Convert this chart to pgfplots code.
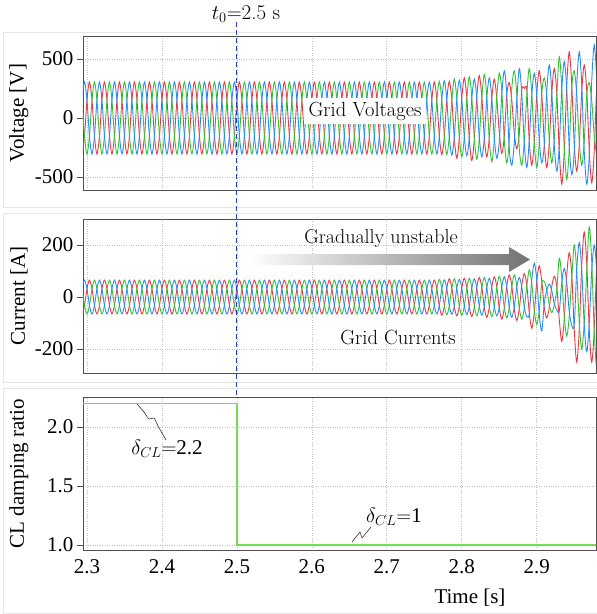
\documentclass[border=0pt]{standalone}
\usepackage{pgfplots}
\pgfplotsset{compat=1.18}
\usepackage{pgfplotstable}
\usepackage{fontspec}
\setmainfont{Liberation Serif}
\newfontfamily\lmr{Latin Modern Roman}
\definecolor{cR}{RGB}{240,55,65}
\definecolor{cG}{RGB}{50,195,50}
\definecolor{cB}{RGB}{35,140,255}
\definecolor{cD}{RGB}{110,225,80}
\definecolor{cL}{RGB}{40,60,205}
\definecolor{frame}{RGB}{80,80,80}

\pgfplotstableread{
t vg vb vr ig ib ir
2.2900 305 -152 -152 65 -32 -32
2.2933 152 152 -305 32 32 -65
2.2967 -152 305 -152 -32 65 -32
2.3000 -305 152 152 -65 32 32
2.3033 -152 -152 305 -32 -32 65
2.3067 152 -305 152 32 -65 32
2.3100 305 -152 -152 65 -32 -32
2.3133 152 152 -305 32 32 -65
2.3167 -152 305 -152 -32 65 -32
2.3200 -305 152 152 -65 32 32
2.3233 -152 -152 305 -32 -32 65
2.3267 152 -305 152 32 -65 32
2.3300 305 -152 -152 65 -32 -32
2.3333 152 152 -305 32 32 -65
2.3367 -152 305 -152 -32 65 -32
2.3400 -305 152 152 -65 32 32
2.3433 -152 -152 305 -32 -32 65
2.3467 152 -305 152 32 -65 32
2.3500 305 -152 -152 65 -32 -32
2.3533 152 152 -305 32 32 -65
2.3567 -152 305 -152 -32 65 -32
2.3600 -305 152 152 -65 32 32
2.3633 -152 -152 305 -32 -32 65
2.3667 152 -305 152 32 -65 32
2.3700 305 -152 -152 65 -32 -32
2.3733 152 152 -305 32 32 -65
2.3767 -152 305 -152 -32 65 -32
2.3800 -305 152 152 -65 32 32
2.3833 -152 -152 305 -32 -32 65
2.3867 152 -305 152 32 -65 32
2.3900 305 -152 -152 65 -32 -32
2.3933 152 152 -305 32 32 -65
2.3967 -152 305 -152 -32 65 -32
2.4000 -305 152 152 -65 32 32
2.4033 -152 -152 305 -32 -32 65
2.4067 152 -305 152 32 -65 32
2.4100 305 -152 -152 65 -32 -32
2.4133 152 152 -305 32 32 -65
2.4167 -152 305 -152 -32 65 -32
2.4200 -305 152 152 -65 32 32
2.4233 -152 -152 305 -32 -32 65
2.4267 152 -305 152 32 -65 32
2.4300 305 -152 -152 65 -32 -32
2.4333 152 152 -305 32 32 -65
2.4367 -152 305 -152 -32 65 -32
2.4400 -305 152 152 -65 32 32
2.4433 -152 -152 305 -32 -32 65
2.4467 152 -305 152 32 -65 32
2.4500 305 -152 -152 65 -32 -32
2.4533 152 152 -305 32 32 -65
2.4567 -152 305 -152 -32 65 -32
2.4600 -305 152 152 -65 32 32
2.4633 -152 -152 305 -32 -32 65
2.4667 152 -305 152 32 -65 32
2.4700 305 -152 -152 65 -32 -32
2.4733 152 152 -305 32 32 -65
2.4767 -152 305 -152 -32 65 -32
2.4800 -305 152 152 -65 32 32
2.4833 -152 -152 305 -32 -32 65
2.4867 152 -305 152 32 -65 32
2.4900 305 -152 -152 65 -32 -32
2.4933 152 152 -305 32 32 -65
2.4967 -152 305 -152 -32 65 -32
2.5000 -305 152 152 -65 32 32
2.5033 -152 -152 305 -32 -32 65
2.5067 152 -305 152 32 -65 32
2.5100 305 -152 -152 65 -32 -32
2.5133 152 152 -305 32 32 -65
2.5167 -152 305 -152 -32 65 -32
2.5200 -305 152 152 -65 32 32
2.5233 -152 -152 305 -32 -32 65
2.5267 152 -305 152 32 -65 32
2.5300 305 -152 -152 65 -32 -32
2.5333 152 152 -305 32 32 -65
2.5367 -152 305 -152 -32 65 -32
2.5400 -305 152 152 -65 32 32
2.5433 -152 -152 305 -32 -32 65
2.5467 152 -305 152 32 -65 32
2.5500 305 -152 -152 65 -32 -32
2.5533 152 152 -305 32 32 -65
2.5567 -152 305 -152 -32 65 -32
2.5600 -305 152 152 -65 32 32
2.5633 -152 -152 305 -32 -32 65
2.5667 152 -305 152 32 -65 32
2.5700 305 -152 -152 65 -32 -32
2.5733 152 152 -305 32 32 -65
2.5767 -152 305 -152 -32 65 -32
2.5800 -305 152 152 -65 32 32
2.5833 -152 -152 305 -32 -32 65
2.5867 152 -305 152 32 -65 32
2.5900 305 -152 -152 65 -32 -32
2.5933 152 152 -305 32 32 -65
2.5967 -152 305 -152 -32 65 -32
2.6000 -305 152 152 -65 32 32
2.6033 -152 -152 305 -32 -32 65
2.6067 152 -305 152 32 -65 32
2.6100 305 -152 -152 65 -32 -32
2.6133 152 152 -305 32 32 -65
2.6167 -152 305 -152 -32 65 -32
2.6200 -305 152 152 -65 32 32
2.6233 -152 -152 305 -32 -32 65
2.6267 152 -305 152 32 -65 32
2.6300 305 -152 -152 65 -32 -32
2.6333 152 152 -305 32 32 -65
2.6367 -152 305 -152 -32 65 -32
2.6400 -305 152 152 -65 32 32
2.6433 -152 -152 305 -32 -32 65
2.6467 152 -305 152 32 -65 32
2.6500 305 -152 -152 65 -32 -32
2.6533 152 152 -305 32 32 -65
2.6567 -152 305 -152 -32 65 -32
2.6600 -305 152 152 -65 32 32
2.6633 -152 -152 305 -32 -32 65
2.6667 152 -305 152 32 -65 32
2.6700 305 -152 -152 65 -32 -32
2.6733 152 152 -305 32 32 -65
2.6767 -152 305 -152 -32 65 -32
2.6800 -305 152 152 -65 32 32
2.6833 -152 -152 305 -32 -32 65
2.6867 152 -305 152 32 -65 32
2.6900 305 -152 -152 65 -32 -32
2.6933 152 152 -305 32 32 -65
2.6967 -152 305 -152 -32 65 -32
2.7000 -305 152 152 -65 32 32
2.7033 -152 -152 305 -32 -32 65
2.7067 152 -305 152 32 -65 32
2.7100 305 -152 -152 65 -32 -32
2.7133 152 152 -305 32 32 -65
2.7167 -152 305 -152 -32 65 -32
2.7200 -305 152 152 -65 32 32
2.7233 -152 -152 305 -32 -32 65
2.7267 152 -305 152 32 -65 32
2.7300 305 -152 -152 65 -32 -32
2.7333 152 152 -305 32 32 -65
2.7367 -152 305 -152 -32 65 -32
2.7400 -305 152 152 -65 32 32
2.7433 -152 -152 305 -32 -32 65
2.7467 152 -305 152 32 -65 32
2.7500 305 -152 -152 65 -32 -32
2.7533 152 152 -305 32 32 -65
2.7567 -152 305 -152 -32 65 -32
2.7600 -305 152 152 -65 32 32
2.7633 -152 -152 305 -32 -32 65
2.7667 152 -305 152 32 -65 32
2.7700 310 -158 -155 68 -33 -35
2.7733 155 158 -310 34 33 -70
2.7767 -155 315 -155 -34 66 -35
2.7800 -310 158 155 -68 33 35
2.7833 -155 -158 310 -34 -33 70
2.7867 155 -315 155 34 -66 35
2.7900 330 -160 -170 70 -34 -36
2.7933 165 160 -340 35 34 -72
2.7967 -165 320 -170 -35 68 -36
2.8000 -330 160 170 -70 34 36
2.8033 -165 -160 340 -35 -34 72
2.8067 165 -320 170 35 -68 36
2.8100 350 -165 -180 72 -35 -38
2.8133 175 165 -360 36 35 -75
2.8167 -175 330 -180 -36 70 -38
2.8200 -350 165 180 -72 35 38
2.8233 -175 -165 360 -36 -35 75
2.8267 175 -330 180 36 -70 38
2.8300 370 -170 -165 75 -36 -39
2.8333 185 170 -330 38 36 -78
2.8367 -185 340 -165 -38 72 -39
2.8400 -370 170 165 -75 36 39
2.8433 -185 -170 330 -38 -36 78
2.8467 185 -340 165 38 -72 39
2.8500 380 -200 -120 80 -39 -43
2.8533 230 200 -300 40 39 -85
2.8567 -190 400 -150 -40 78 -43
2.8600 -380 200 200 -80 39 43
2.8633 -190 -260 300 -40 -39 85
2.8667 250 -400 150 40 -78 43
2.8700 400 -210 -130 85 -38 -45
2.8733 200 150 -260 43 38 -90
2.8767 -260 420 -130 -43 75 -45
2.8800 -400 210 240 -85 38 45
2.8833 -200 -210 250 -43 -38 90
2.8867 200 -420 240 43 -75 45
2.8900 420 -190 -200 105 -65 -60
2.8933 210 190 -400 53 65 -120
2.8967 -210 380 -200 -53 130 -60
2.9000 -420 190 200 -105 65 60
2.9033 -210 -190 400 -53 -65 120
2.9067 210 -380 200 53 -130 60
2.9100 340 -225 -210 60 -25 -40
2.9133 190 225 -420 30 25 -80
2.9167 -190 450 -210 -30 50 -40
2.9200 -380 225 210 -60 25 40
2.9233 -190 -225 420 -30 -25 80
2.9267 190 -450 210 30 -50 40
2.9300 520 -240 -280 150 -55 -85
2.9333 260 240 -560 75 55 -170
2.9367 -260 480 -280 -75 110 -85
2.9400 -520 240 280 -150 55 85
2.9433 -260 -240 560 -75 -55 170
2.9467 260 -480 280 75 -110 85
2.9500 400 -280 -225 200 -105 -125
2.9533 200 280 -450 100 105 -250
2.9567 -200 560 -225 -100 210 -125
2.9600 -400 280 225 -200 105 125
2.9633 -200 -280 450 -100 -105 250
2.9667 200 -560 225 100 -210 125
2.9700 300 -310 -275 270 -100 -125
2.9733 150 310 -550 135 100 -250
2.9767 -150 620 -275 -135 200 -125
2.9800 -300 310 275 -270 100 125
2.9833 -150 -310 550 -135 -100 250
}\data

\pgfplotstableread{
t d
2.2900 2.2
2.5000 2.2
2.5000 1.0
2.9900 1.0
}\damp

\pgfplotsset{
  myax/.style={
    scale only axis,
    width=513pt,
    xmin=2.2947, xmax=2.979,
    xtick={2.3,2.4,2.5,2.6,2.7,2.8,2.9},
    grid=major,
    grid style={dotted, gray!50, line width=0.7pt},
    axis line style={frame, line width=0.9pt},
    tick align=outside,
    major tick length=6pt,
    xtick style={draw=none},
    ytick style={frame, line width=0.8pt},
    /pgf/number format/assume math mode=true,
    xticklabel={\pgfmathprintnumber{\tick}},
    yticklabel={\pgfmathprintnumber{\tick}},
    tick label style={font=\fontsize{21}{24}\selectfont},
    every axis y label/.style={at={(axis description cs:-0.1248,0.5)}, anchor=center, rotate=90, font=\fontsize{21}{24}\selectfont},
    every axis x label/.style={font=\fontsize{21}{24}\selectfont},
  },
  wave/.style={smooth, line width=0.9pt, mark=none},
}

\begin{document}
\begin{tikzpicture}
% light panel frames
\draw[gray!20, line width=0.8pt] (3pt,-32pt) rectangle (597pt,-207pt);
\draw[gray!20, line width=0.8pt] (3pt,-213pt) rectangle (597pt,-382pt);
\draw[gray!20, line width=0.8pt] (3pt,-388pt) rectangle (597pt,-613pt);

\begin{axis}[myax, name=top, at={(83pt,-190pt)}, anchor=south west,
  height=154pt, ymin=-610, ymax=695, ytick={-500,0,500},
  xticklabels={}, ylabel={Voltage [V]}]
  \addplot[wave, cR] table[x=t, y=vr] {\data};
  \addplot[wave, cG] table[x=t, y=vg] {\data};
  \addplot[wave, cB] table[x=t, y=vb] {\data};
  \coordinate (t0top) at (axis cs:2.5,0);
\end{axis}

\begin{axis}[myax, name=mid, at={(83pt,-373pt)}, anchor=south west,
  height=154pt, ymin=-292, ymax=300, ytick={-200,0,200},
  xticklabels={}, ylabel={Current [A]}]
  \addplot[wave, cR] table[x=t, y=ir] {\data};
  \addplot[wave, cG] table[x=t, y=ig] {\data};
  \addplot[wave, cB] table[x=t, y=ib] {\data};
\end{axis}

\begin{axis}[myax, name=bot, at={(83pt,-550pt)}, anchor=south west,
  height=153pt, ymin=0.958, ymax=2.254, ytick={1,1.5,2},
  yticklabel style={/pgf/number format/.cd, fixed, fixed zerofill, precision=1},
  xticklabel style={/pgf/number format/.cd, fixed, fixed zerofill, precision=1},
  ylabel={CL damping ratio}, xlabel={Time [s]},
  xlabel style={at={(axis description cs:0.7544,-0.3137)}, anchor=center}]
  \addplot[cD, line width=1.2pt, mark=none] table[x=t, y=d] {\damp};
  \coordinate (t0bot) at (axis cs:2.5,2.254);
\end{axis}

% t0 marker
\draw[cL, line width=1pt, dash pattern=on 5pt off 3pt] (t0top |- 0,-22pt) -- (t0bot);
\node[font=\lmr\fontsize{21}{24}\selectfont] at (246pt,-14pt) {$t_0{=}$2.5 s};

% annotations
\node[fill=white, inner xsep=4.5pt, inner ysep=4pt, font=\lmr\fontsize{20.5}{24}\selectfont] at (365pt,-111pt) {Grid Voltages};
\node[font=\lmr\fontsize{20.5}{24}\selectfont] at (398pt,-337pt) {Grid Currents};
\shade[left color=white, right color=black!55]
  (247pt,-254pt) -- (509pt,-254pt) -- (509pt,-247pt) -- (530pt,-259.5pt) --
  (509pt,-272pt) -- (509pt,-265pt) -- (247pt,-265pt) -- cycle;
\node[font=\lmr\fontsize{20}{24}\selectfont] at (381pt,-239pt) {Gradually unstable};

\draw[black!80, line width=0.6pt] plot[smooth] coordinates {(137pt,-404pt) (144pt,-412pt) (149pt,-419pt) (154pt,-418pt) (158pt,-426pt) (166pt,-440pt)};
\node[font=\fontsize{21}{24}\selectfont] at (167pt,-449pt) {$\delta_{CL}{=}$2.2};
\draw[black!80, line width=0.6pt] (352pt,-542pt) -- (360pt,-532pt) -- (362pt,-538pt) -- (371pt,-527pt);
\node[font=\fontsize{21}{24}\selectfont] at (394pt,-517pt) {$\delta_{CL}{=}$1};

\pgfresetboundingbox
\path[use as bounding box] (0,0) rectangle (597pt,-614pt);
\end{tikzpicture}
\end{document}
